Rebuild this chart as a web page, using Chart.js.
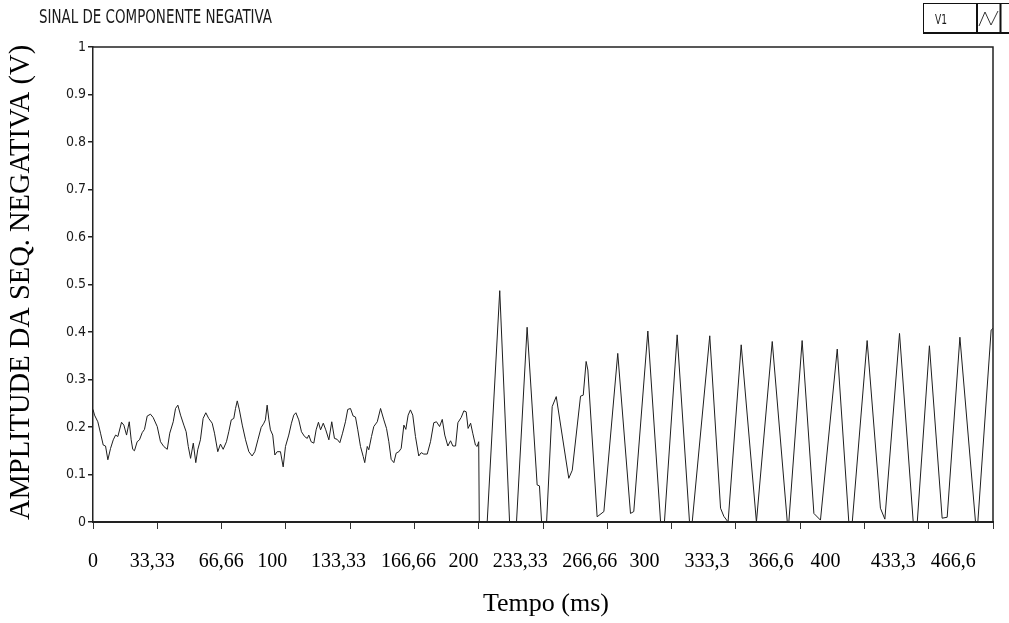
<!DOCTYPE html>
<html>
<head>
<meta charset="utf-8">
<title>Sinal de componente negativa</title>
<script src="https://cdn.jsdelivr.net/npm/chart.js@4.4.1/dist/chart.umd.min.js"></script>
<style>
    html, body { margin: 0; padding: 0; background: #fff; }
    #wrap { width: 1009px; height: 623px; position: relative; }
</style>
</head>
<body>
<div id="wrap"><canvas id="signalChart" width="1009" height="623"></canvas></div>
<script>
const chartTitle = 'SINAL DE COMPONENTE NEGATIVA';
const seriesName = 'V1';
const yAxisTitle = 'AMPLITUDE DA SEQ. NEGATIVA (V)';
const xAxisTitle = 'Tempo (ms)';

// time of each sample (ms)
const timeMs = [
    0, 0.8, 2.5, 3.9, 5.3, 6.5, 7.7, 9.1, 10.5, 11.7,
    12.9, 14.8, 16.0, 17.4, 18.8, 19.8, 20.6, 21.5, 22.9, 24.1,
    25.5, 26.7, 28.1, 29.8, 31.2, 33.3, 35.0, 36.7, 38.5, 39.8,
    41.6, 42.8, 44.0, 45.4, 47.1, 48.3, 49.4, 50.6, 52.0, 53.3,
    54.3, 55.7, 57.1, 58.5, 60.0, 61.8, 63.0, 64.7, 66.1, 67.5,
    69.2, 70.4, 71.7, 73.0, 73.9, 74.8, 75.9, 77.4, 79.1, 80.8,
    82.5, 83.9, 85.5, 87.2, 88.6, 89.4, 90.3, 91.2, 92.0, 93.2,
    94.3, 95.5, 97.2, 98.6, 99.8, 101.5, 102.9, 104.1, 105.2, 106.7,
    108.1, 109.7, 111.1, 111.9, 113.1, 114.5, 115.7, 116.9, 118.0, 119.4,
    120.7, 122.3, 123.8, 125.2, 126.6, 128.0, 129.4, 130.9, 132.1, 133.5,
    134.9, 136.1, 137.3, 138.7, 140.1, 140.9, 142.2, 143.0, 144.4, 145.6,
    147.4, 149.1, 150.8, 152.2, 153.4, 154.6, 156.0, 157.2, 158.6, 159.8,
    161.2, 162.2, 163.4, 164.6, 165.8, 167.2, 168.9, 170.2, 171.5, 173.3,
    175.0, 176.7, 178.1, 179.7, 181.1, 182.4, 184.0, 185.4, 186.6, 188.0,
    189.2, 190.9, 192.3, 193.5, 194.5, 195.8, 196.9, 198.3, 199.2, 200.0,
    200.3,
    204.4, 210.9, 216.0, 219.6, 225.1, 230.3, 231.5, 232.6, 235.2, 238.1,
    240.2, 246.7, 248.5, 252.8, 254.2, 255.7, 256.6, 261.4, 264.9, 272.1,
    278.7, 280.4, 287.7, 294.3, 296.3, 302.9, 309.3, 310.7, 319.8, 325.4,
    327.1, 329.3, 336.1, 344.0, 352.2, 360.0, 360.8, 367.7, 373.8, 377.2,
    385.9, 391.9, 393.7, 401.4, 408.3, 410.6, 418.2, 425.3, 427.4, 433.7,
    440.3, 442.9, 449.5, 457.6, 458.8, 465.7, 466.7
];

// V1 amplitude (V)
const amplitude = [
    0.237, 0.225, 0.211, 0.187, 0.162, 0.160, 0.131, 0.155, 0.173, 0.183,
    0.180, 0.210, 0.204, 0.183, 0.211, 0.173, 0.153, 0.150, 0.169, 0.173,
    0.188, 0.195, 0.223, 0.227, 0.220, 0.201, 0.169, 0.159, 0.153, 0.187,
    0.211, 0.239, 0.246, 0.225, 0.204, 0.190, 0.159, 0.134, 0.166, 0.125,
    0.152, 0.173, 0.218, 0.230, 0.218, 0.208, 0.187, 0.148, 0.164, 0.153,
    0.169, 0.190, 0.215, 0.218, 0.239, 0.255, 0.236, 0.204, 0.173, 0.148,
    0.139, 0.148, 0.173, 0.199, 0.208, 0.215, 0.246, 0.215, 0.194, 0.183,
    0.141, 0.148, 0.148, 0.116, 0.159, 0.183, 0.208, 0.225, 0.230, 0.215,
    0.190, 0.180, 0.176, 0.183, 0.169, 0.166, 0.194, 0.210, 0.194, 0.208,
    0.194, 0.173, 0.211, 0.176, 0.174, 0.167, 0.187, 0.211, 0.237, 0.239,
    0.223, 0.221, 0.194, 0.159, 0.138, 0.125, 0.159, 0.152, 0.180, 0.201,
    0.211, 0.239, 0.215, 0.197, 0.169, 0.132, 0.125, 0.145, 0.148, 0.155,
    0.204, 0.195, 0.225, 0.236, 0.225, 0.180, 0.139, 0.146, 0.143, 0.143,
    0.169, 0.209, 0.211, 0.201, 0.216, 0.183, 0.160, 0.171, 0.160, 0.160,
    0.209, 0.220, 0.234, 0.232, 0.197, 0.208, 0.187, 0.162, 0.159, 0.169,
    0,
    0, 0.487, 0, 0, 0.41, 0.078, 0.076, 0, 0, 0.243,
    0.264, 0.092, 0.109, 0.265, 0.267, 0.338, 0.32, 0.011, 0.022, 0.355,
    0.018, 0.022, 0.402, 0, 0, 0.394, 0, 0, 0.392, 0.029,
    0.012, 0, 0.373, 0, 0.38, 0, 0, 0.382, 0.018, 0.004,
    0.364, 0, 0, 0.382, 0.029, 0.006, 0.397, 0, 0, 0.371,
    0.008, 0.01, 0.389, 0, 0, 0.404, 0.408
];

const yTicks = [0, 0.1, 0.2, 0.3, 0.4, 0.5, 0.6, 0.7, 0.8, 0.9, 1];
const xTicks = [0, 100/3, 200/3, 100, 400/3, 500/3, 200, 700/3, 800/3, 300, 1000/3, 1100/3, 400, 1300/3, 1400/3];
const xTickLabels = ['0', '33,33', '66,66', '100', '133,33', '166,66', '200', '233,33',
    '266,66', '300', '333,3', '366,6', '400', '433,3', '466,6'];

const serif = "'Liberation Serif', 'Times New Roman', serif";
const narrow = "'DejaVu Sans Condensed', 'DejaVu Sans', sans-serif";

// the typed tick labels under the axis sit a bit off the tick marks (in ms)
const labelAnchors = [0, 30.7, 66.5, 92.9, 127.3, 163.6, 192.1, 221.5, 257.6, 285.9, 318.4, 351.7, 379.8, 414.9, 446.0];

const decorPlugin = {
    id: 'decor',
    afterDraw(chart) {
        const { ctx, chartArea: a } = chart;
        const x = chart.scales.x;
        ctx.save();

        // top and right frame
        ctx.strokeStyle = '#222';
        ctx.lineWidth = 1.5;
        ctx.beginPath();
        ctx.moveTo(a.left, a.top);
        ctx.lineTo(a.right, a.top);
        ctx.lineTo(a.right, a.bottom);
        ctx.stroke();

        // graph caption
        ctx.fillStyle = '#1a1a1a';
        ctx.textBaseline = 'alphabetic';
        ctx.textAlign = 'left';
        ctx.font = '20px ' + narrow;
        const tw = ctx.measureText(chartTitle).width;
        ctx.save();
        ctx.translate(39, 23);
        ctx.scale(233 / tw, 1);
        ctx.fillText(chartTitle, 0, 0);
        ctx.restore();

        // legend box
        ctx.lineWidth = 1;
        ctx.strokeStyle = '#111';
        ctx.strokeRect(923.5, 3.5, 90, 29);
        ctx.lineWidth = 2;
        ctx.beginPath();
        ctx.moveTo(923, 33); ctx.lineTo(1009, 33);
        ctx.moveTo(977, 3); ctx.lineTo(977, 33);
        ctx.moveTo(1000.5, 3); ctx.lineTo(1000.5, 33);
        ctx.stroke();
        ctx.fillStyle = '#1a1a1a';
        ctx.font = '14px ' + narrow;
        const vw = ctx.measureText(seriesName).width;
        ctx.save();
        ctx.translate(935, 24);
        ctx.scale(12 / vw, 1);
        ctx.fillText(seriesName, 0, 0);
        ctx.restore();
        ctx.lineWidth = 1;
        ctx.strokeStyle = '#333';
        ctx.beginPath();
        ctx.moveTo(979, 26); ctx.lineTo(985, 12); ctx.lineTo(991, 25); ctx.lineTo(998, 11);
        ctx.stroke();

        // x labels
        ctx.fillStyle = '#000';
        ctx.font = '20px ' + serif;
        ctx.textAlign = 'center';
        xTickLabels.forEach((lbl, i) => {
            ctx.fillText(lbl, x.getPixelForValue(labelAnchors[i]), 567);
        });

        // axis titles
        ctx.font = '26px ' + serif;
        ctx.fillText(xAxisTitle, 546, 611);

        ctx.save();
        ctx.translate(29, (a.top + a.bottom) / 2 - 2);
        ctx.rotate(-Math.PI / 2);
        ctx.font = '28.5px ' + serif;
        ctx.fillText(yAxisTitle, 0, 0);
        ctx.restore();

        ctx.restore();
    }
};

const points = timeMs.map((t, i) => ({ x: t, y: amplitude[i] }));

new Chart(document.getElementById('signalChart').getContext('2d'), {
    type: 'line',
    data: {
        datasets: [{
            label: seriesName,
            data: points,
            borderColor: '#1e1e1e',
            borderWidth: 1,
            pointRadius: 0,
            tension: 0,
            fill: false
        }]
    },
    options: {
        responsive: false,
        animation: false,
        devicePixelRatio: 1,
        layout: { padding: { left: 0, right: 16, top: 47, bottom: 0 } },
        plugins: {
            legend: { display: false },
            tooltip: { enabled: false }
        },
        scales: {
            x: {
                type: 'linear',
                min: 0,
                max: 1400 / 3,
                afterBuildTicks: s => { s.ticks = xTicks.map(v => ({ value: v })); },
                afterFit: s => { s.height = 101; },
                grid: { drawOnChartArea: false, drawTicks: true, tickLength: 7, color: '#333', lineWidth: 1 },
                border: { display: true, color: '#222', width: 2 },
                ticks: { display: false }
            },
            y: {
                min: 0,
                max: 1,
                afterBuildTicks: s => { s.ticks = yTicks.map(v => ({ value: v })); },
                afterFit: s => { s.width = 93; },
                grid: { drawOnChartArea: false, drawTicks: true, tickLength: 5, color: '#222', lineWidth: 1.5 },
                border: { display: true, color: '#222', width: 1.5 },
                ticks: {
                    padding: 2,
                    color: '#1a1a1a',
                    font: { family: narrow, size: 14 },
                    callback: v => String(Math.round(v * 10) / 10)
                }
            }
        }
    },
    plugins: [decorPlugin]
});
</script>
</body>
</html>
